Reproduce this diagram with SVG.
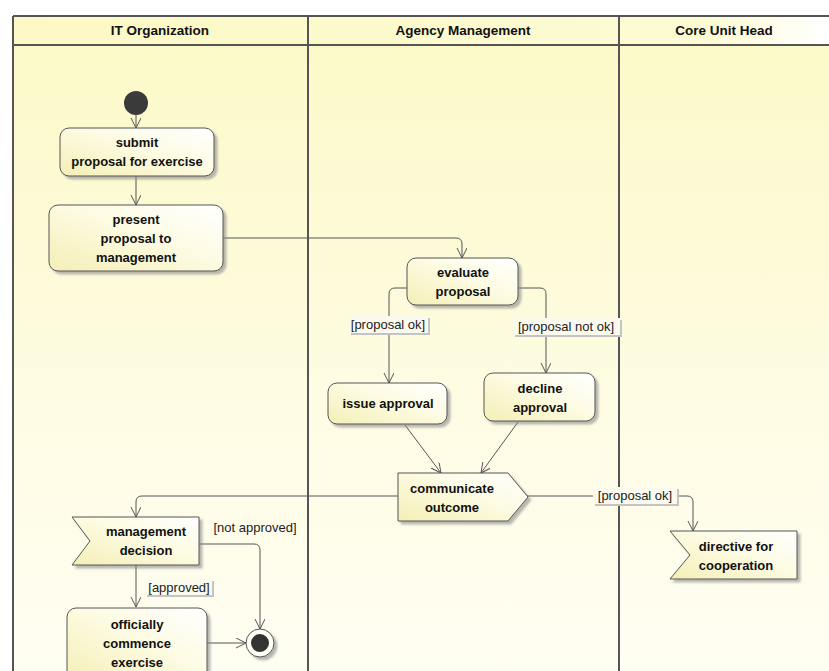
<svg xmlns="http://www.w3.org/2000/svg" width="829" height="671" viewBox="0 0 829 671">
  <defs>
    <linearGradient id="laneFill" x1="0" y1="0" x2="0" y2="1">
      <stop offset="0" stop-color="#fcf9c9"/>
      <stop offset="0.6" stop-color="#fefce4"/>
      <stop offset="1" stop-color="#fffef2"/>
    </linearGradient>
    <linearGradient id="headFill" x1="0" y1="0" x2="1" y2="0">
      <stop offset="0" stop-color="#fcf9c6"/>
      <stop offset="0.85" stop-color="#fdfbd3"/>
      <stop offset="1" stop-color="#ffffff"/>
    </linearGradient>
    <linearGradient id="nodeFill" x1="0" y1="1" x2="1" y2="0">
      <stop offset="0" stop-color="#f4efb6"/>
      <stop offset="0.55" stop-color="#fdfbe2"/>
      <stop offset="1" stop-color="#ffffff"/>
    </linearGradient>
    <filter id="shadow" x="-10%" y="-10%" width="130%" height="140%">
      <feDropShadow dx="3" dy="3" stdDeviation="1.2" flood-color="#888" flood-opacity="0.6"/>
    </filter>
    <marker id="arrow" markerWidth="12" markerHeight="12" refX="10" refY="5" orient="auto" markerUnits="userSpaceOnUse">
      <path d="M0,0 L10,5 L0,10" fill="none" stroke="#555" stroke-width="1"/>
    </marker>
    <style>
      .node { fill: url(#nodeFill); stroke: #555; stroke-width: 1; filter: url(#shadow); }
      .nt { font-family: "Liberation Sans", Arial, sans-serif; font-size: 13px; font-weight: bold; fill: #111; text-anchor: middle; }
      .hd { font-family: "Liberation Sans", Arial, sans-serif; font-size: 13.5px; font-weight: bold; fill: #111; text-anchor: middle; }
      .lb { font-family: "Liberation Sans", Arial, sans-serif; font-size: 13px; fill: #222; text-anchor: middle; }
      .lbbg { fill: #fbfaee; }
      .lbsh { fill: #c4c4c4; }
      .edge { fill: none; stroke: #555; stroke-width: 1; marker-end: url(#arrow); }
      .lane { stroke: #555; stroke-width: 2; fill: none; }
    </style>
  </defs>

  <rect x="0" y="0" width="829" height="671" fill="#ffffff"/>

  <!-- swimlanes -->
  <g id="lanes">
    <rect x="13" y="45" width="816" height="626" fill="url(#laneFill)"/>
    <rect x="13" y="16" width="816" height="29" fill="url(#headFill)"/>
    <line class="lane" x1="13" y1="16" x2="829" y2="16"/>
    <line class="lane" x1="13" y1="45" x2="829" y2="45" stroke-width="1.5"/>
    <line class="lane" x1="13" y1="16" x2="13" y2="671"/>
    <line class="lane" x1="308" y1="16" x2="308" y2="671"/>
    <line class="lane" x1="619" y1="16" x2="619" y2="671"/>
    <text class="hd" x="160" y="35">IT Organization</text>
    <text class="hd" x="463" y="35">Agency Management</text>
    <text class="hd" x="724" y="35">Core Unit Head</text>
  </g>

  <!-- connectors -->
  <g id="connectors">
    <path class="edge" d="M136,115 V128"/>
    <path class="edge" d="M136,176 V205"/>
    <path class="edge" d="M223,238 H456 Q462,238 462,244 V258"/>
    <path class="edge" d="M407,288 H395 Q389,288 389,294 V383"/>
    <path class="edge" d="M518,288 H540 Q546,288 546,294 V373"/>
    <path class="edge" d="M405,425 L441,473"/>
    <path class="edge" d="M518,422 L481,473"/>
    <path class="edge" d="M398,496 H142 Q136,496 136,502 V517"/>
    <path class="edge" d="M527,496 H687 Q693,496 693,502 V531"/>
    <path class="edge" d="M199,544 H254 Q260,544 260,550 V629"/>
    <path class="edge" d="M136,565 V607"/>
    <path class="edge" d="M207,643 H246"/>

    <g id="guard-ok-1">
      <rect class="lbsh" x="351" y="318" width="79" height="17"/>
      <rect class="lbbg" x="349" y="316" width="79" height="17"/>
      <text class="lb" x="388" y="329">[proposal ok]</text>
    </g>
    <g id="guard-not-ok">
      <rect class="lbsh" x="515" y="320" width="107" height="17"/>
      <rect class="lbbg" x="513" y="318" width="107" height="17"/>
      <text class="lb" x="566" y="331">[proposal not ok]</text>
    </g>
    <g id="guard-ok-2">
      <rect class="lbsh" x="595" y="489" width="84" height="17"/>
      <rect class="lbbg" x="593" y="487" width="84" height="17"/>
      <text class="lb" x="635" y="500">[proposal ok]</text>
    </g>
    <text class="lb" x="255" y="532">[not approved]</text>
    <g id="guard-approved">
      <rect class="lbsh" x="147" y="581" width="67" height="16"/>
      <rect class="lbbg" x="145" y="579" width="67" height="16"/>
      <text class="lb" x="179" y="592">[approved]</text>
    </g>
  </g>

  <g id="initial">
    <circle cx="136" cy="103" r="12" fill="#3a3a3a"/>
  </g>

  <g id="submit">
    <rect class="node" x="60" y="128" width="154" height="48" rx="9"/>
    <text class="nt" x="137" y="147">submit</text>
    <text class="nt" x="137" y="166">proposal for exercise</text>
  </g>

  <g id="present">
    <rect class="node" x="49" y="205" width="174" height="66" rx="9"/>
    <text class="nt" x="136" y="224">present</text>
    <text class="nt" x="136" y="243">proposal to</text>
    <text class="nt" x="136" y="262">management</text>
  </g>

  <g id="evaluate">
    <rect class="node" x="407" y="258" width="111" height="47" rx="9"/>
    <text class="nt" x="463" y="277">evaluate</text>
    <text class="nt" x="463" y="296">proposal</text>
  </g>

  <g id="issue">
    <rect class="node" x="328" y="383" width="119" height="41" rx="9"/>
    <text class="nt" x="388" y="408">issue approval</text>
  </g>

  <g id="decline">
    <rect class="node" x="484" y="373" width="111" height="48" rx="9"/>
    <text class="nt" x="540" y="393">decline</text>
    <text class="nt" x="540" y="412">approval</text>
  </g>

  <g id="communicate">
    <polygon class="node" points="398,473 508,473 528,497 508,521 398,521"/>
    <text class="nt" x="452" y="493">communicate</text>
    <text class="nt" x="452" y="512">outcome</text>
  </g>

  <g id="directive">
    <polygon class="node" points="670,531 797,531 797,579 670,579 690,555"/>
    <text class="nt" x="736" y="551">directive for</text>
    <text class="nt" x="736" y="570">cooperation</text>
  </g>

  <g id="decision">
    <polygon class="node" points="72,517 199,517 199,565 72,565 90,541"/>
    <text class="nt" x="146" y="536">management</text>
    <text class="nt" x="146" y="555">decision</text>
  </g>

  <g id="commence">
    <rect class="node" x="67" y="608" width="140" height="75" rx="9"/>
    <text class="nt" x="137" y="629">officially</text>
    <text class="nt" x="137" y="648">commence</text>
    <text class="nt" x="137" y="667">exercise</text>
  </g>

  <g id="final">
    <circle cx="260" cy="643" r="14" fill="#fffff4" stroke="#555" stroke-width="1" filter="url(#shadow)"/>
    <circle cx="260" cy="643" r="9" fill="#333"/>
  </g>
</svg>
